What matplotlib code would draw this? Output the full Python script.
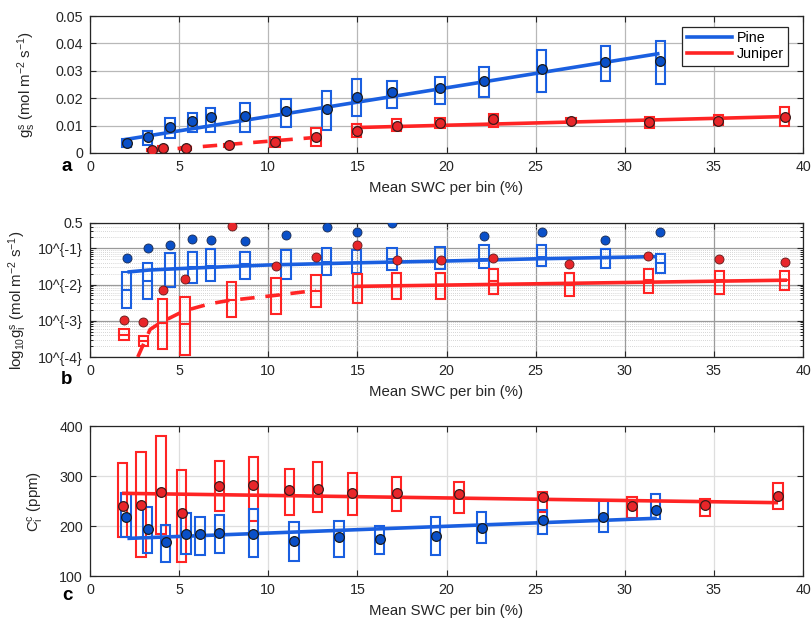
import numpy as np
import matplotlib
matplotlib.use("Agg")
import matplotlib.pyplot as plt
from matplotlib.patches import Rectangle

plt.rcParams['font.family'] = ['Liberation Sans', 'DejaVu Sans']
plt.rcParams['mathtext.fontset'] = 'custom'
plt.rcParams['mathtext.rm'] = 'Liberation Sans'
plt.rcParams['mathtext.it'] = 'Liberation Sans'

BLUE = '#1a5fe0'
BLUE_DOT = '#0a50c8'
RED = '#ff2424'
RED_DOT = '#e8262a'

# ---------------- Panel a: g_s ----------------
pine_a_x = [2.06, 3.24, 4.49, 5.74, 6.77, 8.69, 10.99, 13.27, 14.97, 16.94, 19.63, 22.1, 25.35, 28.92, 32.0]
pine_a_mean = [0.0038, 0.0060, 0.0096, 0.0117, 0.0132, 0.0135, 0.0154, 0.0160, 0.0203, 0.0221, 0.0236, 0.0263, 0.0307, 0.0331, 0.0335]
pine_a_lo = [0.0021, 0.0029, 0.0056, 0.0076, 0.0078, 0.0078, 0.0096, 0.0084, 0.0136, 0.0165, 0.0178, 0.0204, 0.0224, 0.0263, 0.0251]
pine_a_hi = [0.0050, 0.0081, 0.0129, 0.0147, 0.0165, 0.0184, 0.0197, 0.0227, 0.0269, 0.0264, 0.0278, 0.0314, 0.0376, 0.0392, 0.0409]
pine_a_fit_x = [1.96, 31.85]
pine_a_fit_y = [0.0049, 0.0362]

jun_a_x = [3.46, 4.08, 5.38, 7.78, 10.38, 12.68, 14.96, 17.2, 19.63, 22.62, 26.98, 31.37, 35.24, 38.98]
jun_a_mean = [0.0011, 0.0019, 0.0019, 0.0029, 0.0041, 0.0060, 0.0080, 0.0099, 0.0108, 0.0124, 0.0117, 0.0114, 0.0118, 0.0133]
jun_a_lo = [0.0006, 0.0012, 0.0012, 0.0022, 0.0023, 0.0027, 0.0060, 0.0080, 0.0090, 0.0094, 0.0108, 0.0092, 0.0102, 0.0100]
jun_a_hi = [0.0014, 0.0024, 0.0022, 0.0034, 0.0060, 0.0090, 0.0105, 0.0123, 0.0127, 0.0141, 0.0127, 0.0132, 0.0139, 0.0167]
jun_a_dry_fit_x = [3.5, 12.7]
jun_a_dry_fit_y = [0.0009, 0.0057]
jun_a_wet_fit_x = [15.0, 39.0]
jun_a_wet_fit_y = [0.0093, 0.0133]

# ---------------- Panel b: log10 g_i (values given as log10) ----------------
pine_b_x = pine_a_x
pine_b_lo = [-2.64, -2.39, -2.06, -1.95, -1.90, -1.84, -1.84, -1.75, -1.67, -1.61, -1.58, -1.55, -1.49, -1.55, -1.67]
pine_b_hi = [-1.66, -1.40, -1.14, -1.09, -1.03, -1.09, -1.06, -1.00, -1.05, -0.98, -0.95, -0.91, -0.92, -1.01, -1.15]
pine_b_med = [-2.155, -1.89, -1.58, -1.52, -1.49, -1.44, -1.44, -1.38, -1.38, -1.30, -1.35, -1.29, -1.23, -1.26, -1.40]
pine_b_mean = [-1.28, -1.00, -0.92, -0.75, -0.78, -0.81, -0.64, -0.41, -0.55, -0.31, np.nan, -0.66, -0.55, -0.78, -0.55]
pine_b_fit_x = [2.2, 3.3, 5.0, 10.0, 15.0, 20.0, 25.0, 31.6]
pine_b_fit_y = [-1.65, -1.60, -1.56, -1.46, -1.40, -1.35, -1.29, -1.23]

jun_b_x = [1.91, 3.0, 4.08, 5.33, 7.95, 10.43, 12.68, 15.0, 17.2, 19.67, 22.62, 26.9, 31.33, 35.3, 38.98]
jun_b_lo = [-3.54, -3.70, -3.78, -3.94, -2.89, -2.80, -2.63, -2.52, -2.39, -2.39, -2.25, -2.32, -2.23, -2.27, -2.16]
jun_b_hi = [-3.24, -3.42, -2.39, -2.34, -1.92, -1.83, -1.75, -1.72, -1.69, -1.67, -1.58, -1.67, -1.58, -1.63, -1.63]
jun_b_med = [-3.40, -3.55, -3.06, -3.09, -2.44, -2.30, -2.18, -2.06, -2.00, -2.00, -1.91, -2.00, -1.88, -1.88, -1.88]
jun_b_mean = [-2.97, -3.04, -2.14, -1.86, -0.38, -1.49, -1.23, -0.92, -1.31, -1.32, -1.26, -1.44, -1.21, -1.30, -1.38]
jun_b_dry_fit_x = [2.68, 3.37, 3.93, 4.49, 5.14, 5.70, 6.73, 7.78, 10.38, 12.68]
jun_b_dry_fit_y = [-4.0, -3.24, -3.06, -2.92, -2.76, -2.67, -2.53, -2.44, -2.30, -2.16]
jun_b_wet_fit_x = [15.0, 39.0]
jun_b_wet_fit_y = [-2.05, -1.88]

# ---------------- Panel c: C_i ----------------
pine_c_x = [2.02, 3.24, 4.24, 5.38, 6.17, 7.25, 9.16, 11.44, 13.97, 16.26, 19.39, 21.97, 25.39, 28.79, 31.74]
pine_c_mean = [218.7, 193.3, 168.7, 184, 184, 185.3, 184, 170.7, 177.3, 174, 180, 195.3, 212, 218.7, 232]
pine_c_lo = [178.7, 145.3, 128.7, 144, 142, 146.7, 138.7, 130.7, 138.7, 144, 142, 166.7, 184, 187.3, 214]
pine_c_hi = [266.7, 237.3, 202, 226.7, 218.7, 222, 233.3, 208.7, 210.7, 200, 217.3, 228.7, 232, 250, 263.3]
pine_c_fit_x = [2.2, 31.7]
pine_c_fit_y = [175.3, 215.3]

jun_c_x = [1.83, 2.86, 3.98, 5.14, 7.25, 9.16, 11.18, 12.77, 14.71, 17.2, 20.7, 25.4, 30.4, 34.5, 38.6]
jun_c_mean = [240, 242, 267.3, 225.3, 280, 282, 272, 274, 265.3, 265.3, 264, 257.3, 240.7, 242, 260.7]
jun_c_lo = [178.7, 138.7, 184, 128.7, 230.7, 210.7, 222, 227.3, 222, 230.7, 225.3, 227.3, 215.3, 220, 233.3]
jun_c_hi = [325.3, 348.7, 380.7, 312, 330, 338.7, 314, 327.3, 305.3, 297.3, 288.7, 268.7, 257.3, 253.3, 286.7]
jun_c_fit_x = [1.9, 38.5]
jun_c_fit_y = [265.3, 246.7]

x_ticks = [0, 5, 10, 15, 20, 25, 30, 35, 40]
a_yticks = [0, 0.01, 0.02, 0.03, 0.04, 0.05]
a_yticklabels = ['0', '0.01', '0.02', '0.03', '0.04', '0.05']
b_yticks = [1e-4, 1e-3, 1e-2, 1e-1, 0.5]
b_yticklabels = ['10^{-4}', '10^{-3}', '10^{-2}', '10^{-1}', '0.5']
c_yticks = [100, 200, 300, 400]

BOXW = 0.52
TXT = '#262626'

fig = plt.figure(figsize=(8.12, 6.21), dpi=100)
W, H = 812, 621


def add_axes(top, bottom):
    return fig.add_axes([90 / W, 1 - bottom / H, (803 - 90) / W, (bottom - top) / H])


def boxes(ax, xs, lo, hi, color, med=None, log=False):
    for i, x in enumerate(xs):
        l, h = lo[i], hi[i]
        if log:
            l, h = 10 ** l, 10 ** h
        ax.add_patch(Rectangle((x - BOXW / 2, l), BOXW, h - l, fill=False,
                               edgecolor=color, lw=1.5, zorder=3))
        if med is not None:
            m = 10 ** med[i] if log else med[i]
            ax.plot([x - BOXW / 2, x + BOXW / 2], [m, m], color=color, lw=1.5, zorder=3)


def style(ax, letter, letter_y, grid_color):
    ax.set_xlim(0, 40)
    ax.set_xticks(x_ticks)
    ax.tick_params(direction='in', top=True, right=True, length=4, width=0.8,
                   labelsize=10.3, colors=TXT, pad=5)
    ax.tick_params(which='minor', direction='in', top=True, right=True, length=2, width=0.6)
    for s in ax.spines.values():
        s.set_color(TXT)
        s.set_linewidth(0.9)
    ax.grid(True, which='major', color=grid_color, lw=0.9)
    ax.set_axisbelow(True)
    ax.set_xlabel('Mean SWC per bin (%)', fontsize=10.8, color=TXT, labelpad=5)
    fig.text(67 / W, 1 - letter_y / H, letter, fontsize=13.5,
             fontweight='bold', ha='center', va='center', color='black')


# ---- a ----
ax = add_axes(16, 153)
boxes(ax, pine_a_x, pine_a_lo, pine_a_hi, BLUE)
boxes(ax, jun_a_x, jun_a_lo, jun_a_hi, RED)
lp, = ax.plot(pine_a_fit_x, pine_a_fit_y, color=BLUE, lw=2.6, zorder=4, label='Pine')
lj, = ax.plot(jun_a_wet_fit_x, jun_a_wet_fit_y, color=RED, lw=2.6, zorder=4, label='Juniper')
ax.plot(jun_a_dry_fit_x, jun_a_dry_fit_y, color=RED, lw=2.6, ls=(0, (4, 3)), zorder=4)
ax.plot(pine_a_x, pine_a_mean, 'o', ms=7, mfc=BLUE_DOT, mec='#1a1a1a', mew=0.9, zorder=5)
ax.plot(jun_a_x, jun_a_mean, 'o', ms=7, mfc=RED_DOT, mec='#3a1a1a', mew=0.9, zorder=5)
ax.set_ylim(0, 0.05)
ax.set_yticks(a_yticks)
ax.set_yticklabels(a_yticklabels)
style(ax, 'a', 166, '#b8b8b8')
ax.set_ylabel(r'$\mathrm{g^s_s}$ (mol m$^{-2}$ s$^{-1}$)', fontsize=10.8, color=TXT)
ax.yaxis.set_label_coords(-0.073, 0.5)
leg = ax.legend(handles=[lp, lj], loc='upper right', bbox_to_anchor=(0.979, 0.92),
                fontsize=10.3, frameon=True, fancybox=False, edgecolor=TXT,
                handlelength=3.2, handletextpad=0.3, borderpad=0.3, labelspacing=0.15,
                borderaxespad=0)
leg.get_frame().set_linewidth(0.9)
leg.get_frame().set_alpha(1)

# ---- b ----
ax = add_axes(223, 357)
ax.set_yscale('log')
boxes(ax, pine_b_x, pine_b_lo, pine_b_hi, BLUE, med=pine_b_med, log=True)
boxes(ax, jun_b_x, jun_b_lo, jun_b_hi, RED, med=jun_b_med, log=True)
ax.plot(pine_b_fit_x, 10 ** np.array(pine_b_fit_y), color=BLUE, lw=2.6, zorder=4)
ax.plot(jun_b_wet_fit_x, 10 ** np.array(jun_b_wet_fit_y), color=RED, lw=2.6, zorder=4)
ax.plot(jun_b_dry_fit_x, 10 ** np.array(jun_b_dry_fit_y), color=RED, lw=2.6, ls=(0, (4, 3)), zorder=4)
ax.plot(pine_b_x, 10 ** np.array(pine_b_mean), 'o', ms=6.5, mfc=BLUE_DOT, mec='#1a2a50', mew=0.6, zorder=5)
ax.plot(jun_b_x, 10 ** np.array(jun_b_mean), 'o', ms=6.5, mfc=RED_DOT, mec='#601a1a', mew=0.6, zorder=5)
ax.set_ylim(1e-4, 0.5)
ax.set_yticks(b_yticks)
ax.set_yticklabels(b_yticklabels)
style(ax, 'b', 380, '#9a9a9a')
ax.grid(True, which='minor', axis='y', color='#c8c8c8', lw=0.6, ls=(0, (1, 1.5)))
ax.set_ylabel(r'log$_{10}\mathrm{g^s_i}$ (mol m$^{-2}$ s$^{-1}$)', fontsize=10.8, color=TXT)
ax.yaxis.set_label_coords(-0.085, 0.42)

# ---- c ----
ax = add_axes(426, 576)
boxes(ax, jun_c_x, jun_c_lo, jun_c_hi, RED)
boxes(ax, pine_c_x, pine_c_lo, pine_c_hi, BLUE)
ax.plot(jun_c_fit_x, jun_c_fit_y, color=RED, lw=2.6, zorder=4)
ax.plot(pine_c_fit_x, pine_c_fit_y, color=BLUE, lw=2.6, zorder=4)
ax.plot(pine_c_x, pine_c_mean, 'o', ms=7, mfc=BLUE_DOT, mec='#1a1a1a', mew=0.9, zorder=5)
ax.plot(jun_c_x, jun_c_mean, 'o', ms=7, mfc=RED_DOT, mec='#3a1a1a', mew=0.9, zorder=5)
ax.set_ylim(100, 400)
ax.set_yticks(c_yticks)
style(ax, 'c', 596, '#dedede')
ax.set_ylabel(r'$\mathrm{C^c_i}$ (ppm)', fontsize=10.8, color=TXT)
ax.yaxis.set_label_coords(-0.062, 0.5)

fig.savefig('out.png', dpi=100)
